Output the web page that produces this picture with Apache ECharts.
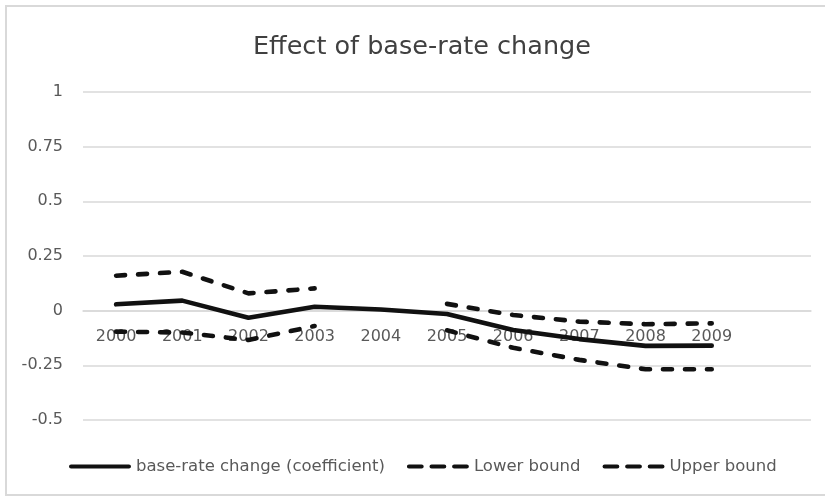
<!DOCTYPE html>
<html>
<head>
<meta charset="utf-8">
<script src="https://cdn.jsdelivr.net/npm/echarts@6/dist/echarts.min.js"></script>
<style>
  html, body { margin: 0; padding: 0; background: #fff; }
  .edge { position: absolute; background: #d9d9d9; }
  #edgeTop { left: 5px; top: 5px; width: 820px; height: 2px; }
  #edgeLeft { left: 5px; top: 5px; width: 2px; height: 491px; }
  #edgeBottom { left: 5px; top: 494px; width: 820px; height: 2px; }
  #chart { position: absolute; left: 0; top: 0; width: 825px; height: 498px; }
</style>
</head>
<body>
<div class="edge" id="edgeTop"></div>
<div class="edge" id="edgeLeft"></div>
<div class="edge" id="edgeBottom"></div>
<div id="chart"></div>
<script>
// Years on the horizontal axis (a trailing empty slot keeps the plot's spacing)
const years = ['2000', '2001', '2002', '2003', '2004', '2005', '2006', '2007', '2008', '2009', ''];

// Estimated coefficient of the base-rate change per year
const coefficient = [0.029, 0.046, -0.032, 0.018, 0.005, -0.015, -0.088, -0.13, -0.161, -0.16, null];

// Confidence bounds (not estimated for 2004)
const lowerBound = [-0.096, -0.10, -0.134, -0.07, null, -0.09, -0.17, -0.225, -0.268, -0.268, null];
const upperBound = [0.16, 0.178, 0.079, 0.102, null, 0.031, -0.02, -0.05, -0.062, -0.058, null];

const seriesNames = ['base-rate change (coefficient)', 'Lower bound', 'Upper bound'];

const FONT = '"DejaVu Sans", sans-serif';
const GREY = '#595959';
const INK = '#111111';

const Y_MIN = -0.5, Y_MAX = 1;
const GRID = { left: 83, right: 14, top: 92, bottom: 78 };

// Legend glyphs: a solid bar and a three-dash bar
const SOLID_ICON = 'path://M2,0H58A2,2 0 0 1 58,4H2A2,2 0 0 1 2,0Z';
const DASH_ICON = 'path://M2,0H14A2,2 0 0 1 14,4H2A2,2 0 0 1 2,0Z' +
  'M23.5,0H35.5A2,2 0 0 1 35.5,4H23.5A2,2 0 0 1 23.5,0Z' +
  'M45,0H57A2,2 0 0 1 57,4H45A2,2 0 0 1 45,0Z';

const chartEl = document.getElementById('chart');
const chart = echarts.init(chartEl, null, { renderer: 'canvas' });

// The year axis sits on the zero line of the value axis
const plotHeight = chartEl.clientHeight - GRID.top - GRID.bottom;
const zeroOffset = -plotHeight * (0 - Y_MIN) / (Y_MAX - Y_MIN);

function lineSeries(name, data, dashed) {
  return {
    name: name,
    type: 'line',
    data: data,
    symbol: 'none',
    connectNulls: false,
    z: 3,
    lineStyle: {
      color: INK,
      width: 4.6,
      type: dashed ? [9, 13] : 'solid',
      cap: 'round',
      join: 'round'
    },
    itemStyle: { color: INK }
  };
}

chart.setOption({
  backgroundColor: 'transparent',
  animation: false,
  title: {
    text: 'Effect of base-rate change',
    left: 248,
    top: 29,
    textStyle: { fontFamily: FONT, fontSize: 25.5, fontWeight: 'normal', color: '#404040' }
  },
  grid: Object.assign({ containLabel: false }, GRID),
  legend: {
    data: [
      { name: seriesNames[0], icon: SOLID_ICON },
      { name: seriesNames[1], icon: DASH_ICON },
      { name: seriesNames[2], icon: DASH_ICON }
    ],
    top: 453,
    left: 64,
    itemWidth: 62,
    itemHeight: 5,
    itemGap: 22,
    itemStyle: { color: INK },
    textStyle: { fontFamily: FONT, fontSize: 16.5, color: GREY }
  },
  xAxis: {
    type: 'category',
    data: years,
    boundaryGap: true,
    offset: zeroOffset,
    axisLine: { show: true, onZero: false, lineStyle: { color: '#d9d9d9', width: 1.5 } },
    axisTick: { show: false },
    axisLabel: { fontFamily: FONT, fontSize: 16, color: GREY, margin: 18, interval: 0 },
    splitLine: { show: false }
  },
  yAxis: {
    type: 'value',
    min: Y_MIN,
    max: Y_MAX,
    interval: 0.25,
    axisLine: { show: false },
    axisTick: { show: false },
    axisLabel: { fontFamily: FONT, fontSize: 16, color: GREY, margin: 20 },
    splitLine: { lineStyle: { color: '#d9d9d9', width: 1.5 } }
  },
  series: [
    lineSeries(seriesNames[0], coefficient, false),
    lineSeries(seriesNames[1], lowerBound, true),
    lineSeries(seriesNames[2], upperBound, true)
  ]
});
</script>
</body>
</html>
